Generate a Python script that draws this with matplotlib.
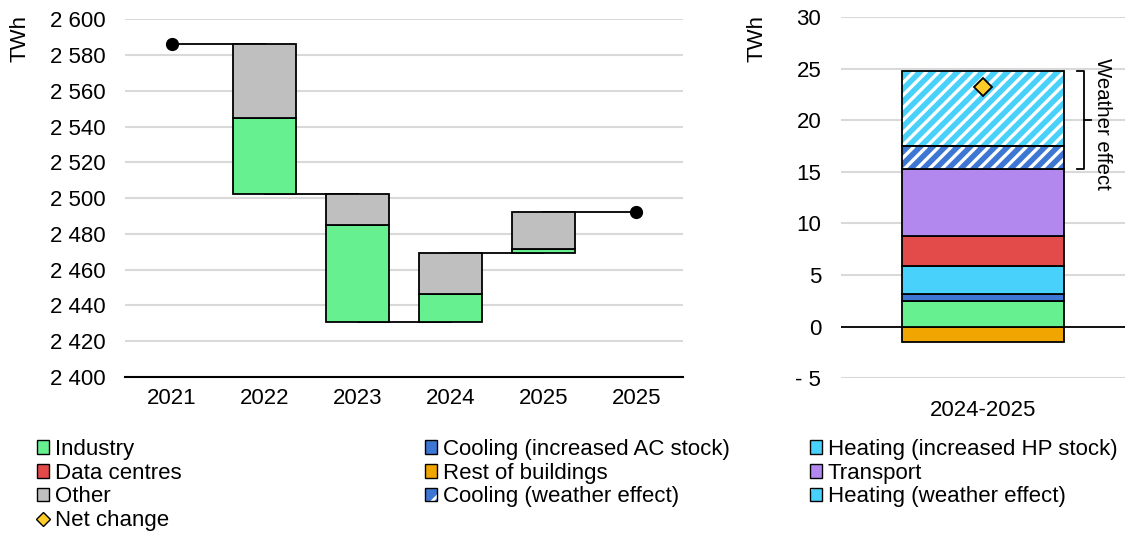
import numpy as np
import matplotlib.pyplot as plt
import matplotlib.transforms as mtransforms
from matplotlib.patches import Patch
from matplotlib.lines import Line2D
from matplotlib.collections import LineCollection
from matplotlib.legend_handler import HandlerTuple

plt.rcParams['font.family'] = ['Liberation Sans', 'DejaVu Sans']
plt.rcParams['font.size'] = 16
plt.rcParams['hatch.linewidth'] = 2.0

# demand waterfall, TWh
years = ['2021', '2022', '2023', '2024', '2025', '2025']
start_total = 2586.0
industry_chg = [-42.5, -54.5, 15.7, 2.2]
other_chg = [-41.3, -17.0, 23.0, 20.7]

# 2024-2025 breakdown, TWh
period = '2024-2025'
rest_buildings = -1.52
industry = 2.43
cooling_ac = 0.74
heating_hp = 2.68
data_centres = 2.91
transport = 6.47
cooling_weather = 2.23
heating_weather = 7.27

c_industry = '#66F090'
c_other = '#BFBFBF'
c_cool = '#3D77D3'
c_heat = '#48D1FA'
c_data = '#E34B4B'
c_rest = '#F0A500'
c_transport = '#B388EE'
c_net = '#FFCC29'
c_grid = '#D9D9D9'

fig = plt.figure(figsize=(11.27, 5.34), dpi=100)
ax1 = fig.add_axes([0.111, 0.294, 0.495, 0.670])
ax2 = fig.add_axes([0.746, 0.292, 0.252, 0.676])


def add_stripes(ax, rect, spacing=12.5, lw=2.4):
    # white diagonal stripes in pixel space, clipped to the bar
    bb = rect.get_window_extent()
    h = bb.y1 - bb.y0
    segs = []
    c = bb.x0 - h
    while c < bb.x1:
        segs.append([(c, bb.y0), (c + h, bb.y1)])
        c += spacing
    lc = LineCollection(segs, colors='white', linewidths=lw,
                        transform=mtransforms.IdentityTransform(), zorder=3.5)
    ax.add_collection(lc, autolim=False)
    lc.set_clip_path(rect)


# ---- left: waterfall ----
x = np.arange(len(years))
totals = [start_total]
for di, do in zip(industry_chg, other_chg):
    totals.append(totals[-1] + di + do)

bw = 0.67
edge = dict(edgecolor='black', linewidth=1.3, zorder=3)
for k, (di, do) in enumerate(zip(industry_chg, other_chg)):
    low = min(totals[k], totals[k + 1])
    ax1.bar(x[k + 1], abs(di), bottom=low, width=bw, color=c_industry, **edge)
    ax1.bar(x[k + 1], abs(do), bottom=low + abs(di), width=bw, color=c_other, **edge)

for k in range(len(totals)):
    ax1.plot([x[k], x[k + 1]], [totals[k], totals[k]], color='black', lw=1.3, zorder=2)
ax1.plot([x[0], x[-1]], [totals[0], totals[-1]], 'o', color='black', ms=8.5, zorder=4)

ax1.set_xlim(-0.5, len(years) - 0.5)
ax1.set_ylim(2400, 2600)
yt = np.arange(2400, 2601, 20)
ax1.set_yticks(yt)
ax1.set_yticklabels([f'{v:,}'.replace(',', ' ') for v in yt])
ax1.set_xticks(x)
ax1.set_xticklabels(years)
ax1.yaxis.grid(True, color=c_grid, lw=1.5)
ax1.set_axisbelow(True)
for s in ['top', 'right', 'left']:
    ax1.spines[s].set_visible(False)
ax1.spines['bottom'].set_linewidth(1.5)
ax1.tick_params(axis='both', length=0)
ax1.tick_params(axis='y', pad=14)
ax1.tick_params(axis='x', pad=8)

# ---- right: breakdown of the last year ----
ax2.set_xlim(-0.5, 0.5)
ax2.set_ylim(-5, 30)
bw2 = 0.57
ax2.bar(0, rest_buildings, width=bw2, color=c_rest, **edge)
base = 0.0
for val, col in [(industry, c_industry), (cooling_ac, c_cool), (heating_hp, c_heat),
                 (data_centres, c_data), (transport, c_transport)]:
    ax2.bar(0, val, bottom=base, width=bw2, color=col, **edge)
    base += val

weather_low = base
for val, col in [(cooling_weather, c_cool), (heating_weather, c_heat)]:
    bars = ax2.bar(0, val, bottom=base, width=bw2, color=col, linewidth=0, zorder=3)
    add_stripes(ax2, bars.patches[0])
    ax2.bar(0, val, bottom=base, width=bw2, fill=False, edgecolor='black',
            linewidth=1.3, zorder=4)
    base += val
weather_high = base

net = rest_buildings + industry + cooling_ac + heating_hp + data_centres + transport \
    + cooling_weather + heating_weather
ax2.plot(0, net, 'D', color=c_net, mec='black', mew=1.3, ms=9, zorder=5)

ax2.axhline(0, color='black', lw=1.3, zorder=2)
yt2 = np.arange(-5, 31, 5)
ax2.set_yticks(yt2)
ax2.set_yticklabels([f'- {abs(v)}' if v < 0 else str(v) for v in yt2])
ax2.set_xticks([0])
ax2.set_xticklabels([period])
ax2.yaxis.grid(True, color=c_grid, lw=1.5)
ax2.set_axisbelow(True)
for s in ax2.spines.values():
    s.set_visible(False)
ax2.tick_params(axis='both', length=0)
ax2.tick_params(axis='y', pad=14)
ax2.tick_params(axis='x', pad=16)

# bracket marking the weather-driven part
tr = mtransforms.blended_transform_factory(ax2.transAxes, ax2.transData)
bx, tick = 0.856, 0.024
ax2.plot([bx - tick, bx, bx, bx - tick], [weather_high, weather_high, weather_low, weather_low],
         color='black', lw=1.3, transform=tr, clip_on=False)
wmid = (weather_low + weather_high) / 2
ax2.plot([bx, bx + tick], [wmid, wmid], color='black', lw=1.3, transform=tr, clip_on=False)
ax2.text(0.92, wmid - 0.3, 'Weather effect', rotation=270, ha='center', va='center',
         transform=tr, fontsize=14.7)

fig.text(20 / 1127, 1 - 38 / 534, 'TWh', rotation=90, ha='center', va='center')
fig.text(757 / 1127, 1 - 38 / 534, 'TWh', rotation=90, ha='center', va='center')

# ---- legend, three columns ----
def sq(col):
    return Patch(facecolor=col, edgecolor='black', linewidth=1.0)

def sq_hatch(col):
    return (Patch(facecolor=col, edgecolor='white', hatch='/', linewidth=0),
            Patch(fill=False, edgecolor='black', linewidth=1.0))

net_handle = Line2D([], [], marker='D', ls='none', color=c_net, mec='black', mew=1.0, ms=7)

columns = [
    ([sq(c_industry), sq(c_data), sq(c_other), net_handle],
     ['Industry', 'Data centres', 'Other', 'Net change'], 37),
    ([sq(c_cool), sq(c_rest), sq_hatch(c_cool)],
     ['Cooling (increased AC stock)', 'Rest of buildings', 'Cooling (weather effect)'], 425),
    ([sq(c_heat), sq(c_transport), sq_hatch(c_heat)],
     ['Heating (increased HP stock)', 'Transport', 'Heating (weather effect)'], 810),
]
for handles, labels, px in columns:
    fig.legend(handles, labels, loc='upper left', bbox_to_anchor=(px / 1127, 1 - 439 / 534),
               frameon=False, borderpad=0, borderaxespad=0, handlelength=0.55,
               handleheight=0.55, handletextpad=0.25, labelspacing=0.12,
               handler_map={tuple: HandlerTuple(ndivide=1, pad=0)})

fig.savefig('out.png', dpi=100)
